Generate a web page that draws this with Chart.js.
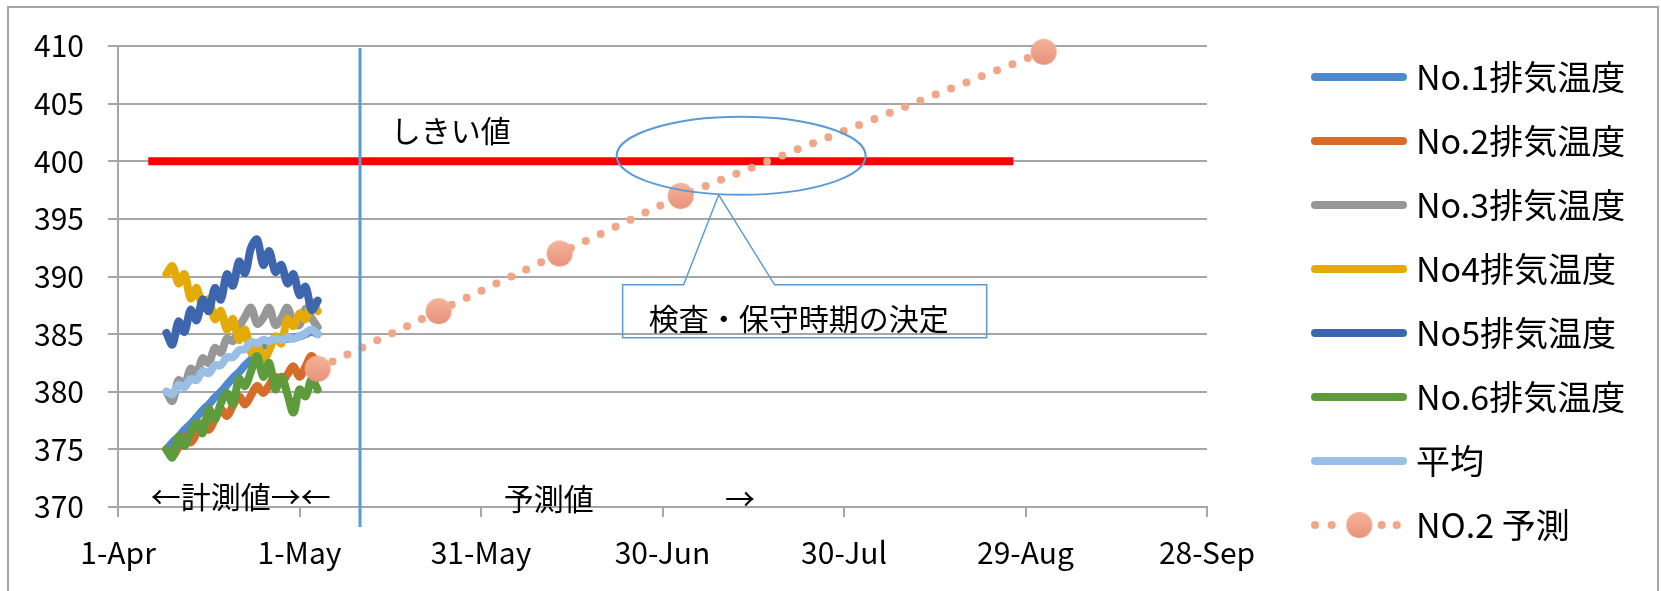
<!DOCTYPE html>
<html>
<head>
<meta charset="utf-8">
<script src="https://cdn.jsdelivr.net/npm/chart.js@4.4.1/dist/chart.umd.min.js"></script>
<style>
  html, body { margin: 0; padding: 0; background: #fff; }
  #wrap { width: 1661px; height: 591px; }
</style>
</head>
<body>
<div id="wrap"><canvas id="chart" width="1661" height="591"></canvas></div>
<script>
// measured exhaust temperatures, one value per day
const measDates = [
  '2019-04-09', '2019-04-10', '2019-04-11', '2019-04-12', '2019-04-13', '2019-04-14',
  '2019-04-15', '2019-04-16', '2019-04-17', '2019-04-18', '2019-04-19', '2019-04-20',
  '2019-04-21', '2019-04-22', '2019-04-23', '2019-04-24', '2019-04-25', '2019-04-26',
  '2019-04-27', '2019-04-28', '2019-04-29', '2019-04-30', '2019-05-01', '2019-05-02',
  '2019-05-03', '2019-05-04'
]
const no1Temp = [375.0, 375.6, 376.1, 376.7, 377.2, 377.8, 378.4, 378.9, 379.5, 380.0, 380.6, 381.2, 381.7,
                 382.3, 382.8, 383.4, 384.0, 384.3, 384.5, 384.6, 384.6, 384.7, 384.8, 385.0, 385.2, 385.0]
const no2Temp = [375.0, 374.4, 375.2, 376.1, 375.6, 376.4, 377.3, 376.7, 377.6, 378.5, 377.9, 378.8, 379.6,
                 378.9, 379.7, 380.5, 379.9, 380.6, 381.3, 380.8, 381.5, 382.2, 381.3, 382.2, 383.1, 382.3]
const no3Temp = [380.0, 379.2, 381.0, 380.6, 382.0, 381.6, 382.9, 382.5, 383.8, 383.4, 384.6, 384.4, 385.6,
                 386.5, 387.3, 385.9, 386.4, 387.3, 385.8, 386.4, 387.3, 386.0, 385.8, 387.2, 386.4, 385.6]
const no4Temp = [390.2, 390.9, 389.4, 390.2, 388.1, 389.0, 387.3, 388.0, 386.3, 387.0, 385.4, 386.3, 384.5,
                 385.4, 383.4, 384.2, 382.8, 383.6, 384.8, 384.2, 386.3, 385.7, 386.8, 386.3, 387.8, 387.0]
const no5Temp = [385.1, 384.1, 386.1, 385.2, 387.1, 386.2, 388.0, 387.0, 389.0, 388.0, 390.2, 389.2, 391.3,
                 390.3, 392.5, 393.2, 391.0, 392.2, 390.4, 391.0, 389.4, 390.2, 388.4, 389.1, 387.1, 387.9]
const no6Temp = [375.0, 374.3, 376.1, 375.3, 376.5, 377.3, 376.4, 378.5, 377.6, 379.0, 379.9, 378.9, 381.1,
                 380.5, 381.8, 383.1, 381.3, 382.5, 380.2, 381.3, 379.8, 378.2, 380.2, 379.6, 381.1, 380.2]
const avgTemp = [380.0, 379.8, 380.6, 380.4, 381.1, 381.0, 381.8, 381.6, 382.3, 382.3, 383.0, 383.0, 383.6,
                 383.7, 384.3, 384.2, 384.5, 384.4, 384.6, 384.5, 384.7, 384.6, 384.8, 385.1, 385.4, 385.0]

// No.2 forecast
const predDates = ['2019-05-04', '2019-05-24', '2019-06-13', '2019-07-03', '2019-09-01']
const predTemp = [382, 387, 392, 397, 409.5]

// threshold
const limitDates = ['2019-04-06', '2019-08-27']
const limitTemp = [400, 400]

const seriesNames = ['No.1排気温度', 'No.2排気温度', 'No.3排気温度', 'No4排気温度', 'No5排気温度', 'No.6排気温度', '平均']
const seriesValues = [no1Temp, no2Temp, no3Temp, no4Temp, no5Temp, no6Temp, avgTemp]
const predName = 'NO.2 予測'

const splitDate = '2019-05-11'
const monthNames = ['Jan', 'Feb', 'Mar', 'Apr', 'May', 'Jun', 'Jul', 'Aug', 'Sep', 'Oct', 'Nov', 'Dec']

const FONT = '"Noto Sans CJK JP", "Noto Sans", sans-serif'
const GRID = '#A6A6A6'
const lineColors = ['#4E8ACB', '#D56C2A', '#979797', '#E4AA08', '#3E66AF', '#5E9B3D', '#9BBFE4']
const PRED_COLOR = '#F0A687'

// day offset from 1-Apr
const DAY0 = Date.UTC(2019, 3, 1)
const dayOf = s => (Date.parse(s + 'T00:00:00Z') - DAY0) / 864e5
const toPoints = (dates, vals) => dates.map((d, i) => ({ x: dayOf(d), y: vals[i] }))

// round salmon marker with a soft top-to-bottom shade
function makeMarker(r) {
  const c = document.createElement('canvas')
  c.width = c.height = 2 * r + 2
  const g = c.getContext('2d')
  const grad = g.createLinearGradient(0, 1, 0, 2 * r + 1)
  grad.addColorStop(0, '#F5B49A')
  grad.addColorStop(1, '#E6937A')
  g.fillStyle = grad
  g.beginPath()
  g.arc(r + 1, r + 1, r, 0, Math.PI * 2)
  g.fill()
  return c
}
const marker = makeMarker(13)

const datasets = [{
  label: 'しきい値',
  inLegend: false,
  data: toPoints(limitDates, limitTemp),
  borderColor: '#FF0000',
  borderWidth: 8,
  borderCapStyle: 'butt',
  pointRadius: 0
}]
seriesValues.forEach((vals, i) => {
  datasets.push({
    label: seriesNames[i],
    data: toPoints(measDates, vals),
    borderColor: lineColors[i],
    backgroundColor: lineColors[i],
    borderWidth: 8,
    borderCapStyle: 'round',
    borderJoinStyle: 'round',
    tension: 0.35,
    pointRadius: 0
  })
})
datasets.push({
  label: predName,
  data: toPoints(predDates, predTemp),
  borderColor: PRED_COLOR,
  backgroundColor: PRED_COLOR,
  borderWidth: 8,
  borderDash: [0, 16.5],
  borderCapStyle: 'round',
  pointStyle: marker,
  pointRadius: 13,
  clip: false
})
// Excel draws later series on top
datasets.forEach((d, i) => { d.order = datasets.length - i })

const overlay = {
  id: 'overlay',
  beforeDraw(chart) {
    const { ctx, width, height } = chart
    ctx.save()
    ctx.strokeStyle = GRID
    ctx.lineWidth = 2
    ctx.strokeRect(8, 7, width - 11, height)
    ctx.restore()
  },
  afterDatasetsDraw(chart) {
    const { ctx, chartArea: a, scales: { x, y } } = chart
    ctx.save()
    // measured / forecast divider
    const xd = x.getPixelForValue(dayOf(splitDate))
    ctx.strokeStyle = '#5B9BD5'
    ctx.lineWidth = 3
    ctx.beginPath()
    ctx.moveTo(xd, a.top + 2)
    ctx.lineTo(xd, a.bottom + 20)
    ctx.stroke()

    ctx.fillStyle = '#000'
    ctx.font = `30px ${FONT}`
    ctx.textAlign = 'center'
    ctx.textBaseline = 'middle'
    ctx.fillText('しきい値', x.getPixelForValue(55), y.getPixelForValue(402.7))
    ctx.fillText('←計測値→←', x.getPixelForValue(20.3), a.bottom - 10)
    ctx.fillText('予測値', x.getPixelForValue(71.2), a.bottom - 8)
    ctx.fillText('→', x.getPixelForValue(102.8), a.bottom - 8)

    // callout on the threshold crossing
    const cx = x.getPixelForValue(103), cy = y.getPixelForValue(400.47)
    ctx.strokeStyle = '#5B9BD5'
    ctx.lineWidth = 2
    ctx.beginPath()
    ctx.ellipse(cx, cy, 124.5, 39, 0, 0, Math.PI * 2)
    ctx.stroke()
    ctx.lineWidth = 1.5
    ctx.beginPath()
    ctx.moveTo(cx - 118.5, cy + 129)
    ctx.lineTo(cx - 57.5, cy + 129)
    ctx.lineTo(cx - 22.5, cy + 39)
    ctx.lineTo(cx + 33.5, cy + 129)
    ctx.lineTo(cx + 245.5, cy + 129)
    ctx.lineTo(cx + 245.5, cy + 182)
    ctx.lineTo(cx - 118.5, cy + 182)
    ctx.closePath()
    ctx.stroke()
    ctx.fillText('検査・保守時期の決定', cx + 57.5, cy + 163)
    ctx.restore()
  },
  afterDraw(chart) {
    // legend on the right, drawn from the datasets
    const { ctx, chartArea: a } = chart
    const items = chart.data.datasets.filter(d => d.inLegend !== false)
    const x0 = a.right + 104
    ctx.save()
    ctx.font = `34px ${FONT}`
    ctx.textBaseline = 'middle'
    ctx.textAlign = 'left'
    items.forEach((ds, i) => {
      const yy = a.top + 31 + i * 64
      if (ds.borderDash) {
        ctx.fillStyle = ds.borderColor
        ;[4, 20.7, 70.7, 85.7].forEach(dx => {
          ctx.beginPath()
          ctx.arc(x0 + dx, yy, 4, 0, Math.PI * 2)
          ctx.fill()
        })
        ctx.drawImage(marker, x0 + 48.3 - marker.width / 2, yy - marker.height / 2)
      } else {
        ctx.strokeStyle = ds.borderColor
        ctx.lineWidth = 8
        ctx.lineCap = 'round'
        ctx.beginPath()
        ctx.moveTo(x0 + 4, yy)
        ctx.lineTo(x0 + 92, yy)
        ctx.stroke()
      }
      ctx.fillStyle = '#000'
      ctx.fillText(ds.label, x0 + 105, yy)
    })
    ctx.restore()
  }
}

new Chart(document.getElementById('chart').getContext('2d'), {
  type: 'line',
  data: { datasets },
  plugins: [overlay],
  options: {
    responsive: false,
    animation: false,
    devicePixelRatio: 1,
    layout: { padding: { left: 33, top: 46, right: 454, bottom: 20 } },
    plugins: { legend: { display: false }, tooltip: { enabled: false } },
    scales: {
      x: {
        type: 'linear',
        min: 0,
        max: 180,
        ticks: {
          stepSize: 30,
          autoSkip: false,
          maxRotation: 0,
          padding: 18,
          color: '#000',
          font: { family: FONT, size: 30 },
          callback: v => {
            const d = new Date(DAY0 + v * 864e5)
            return `${d.getUTCDate()}-${monthNames[d.getUTCMonth()]}`
          }
        },
        grid: { drawOnChartArea: false, color: GRID, lineWidth: 2, tickLength: 10 },
        border: { color: GRID, width: 2 },
        afterFit: s => { s.height = 64 }
      },
      y: {
        min: 370,
        max: 410,
        ticks: {
          stepSize: 5,
          padding: 24,
          color: '#000',
          font: { family: FONT, size: 30 }
        },
        grid: { color: GRID, lineWidth: 2, tickLength: 10 },
        border: { color: GRID, width: 2 },
        afterFit: s => { s.width = 85 }
      }
    }
  }
})
</script>
</body>
</html>
